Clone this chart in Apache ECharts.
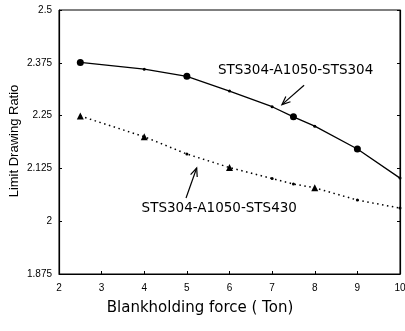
<!DOCTYPE html>
<html><head><meta charset="utf-8">
<script src="https://cdn.jsdelivr.net/npm/echarts@6/dist/echarts.min.js"></script>
<style>html,body{margin:0;padding:0;background:#fff}#c{width:405px;height:331px}</style>
</head><body><div id="c"></div>
<script>
// Series 1: STS304-A1050-STS304 (solid)
var name1 = 'STS304-A1050-STS304';
var xs1 = [2.5, 4, 5, 6, 7, 7.5, 8, 9, 10];
var ys1 = [2.376, 2.360, 2.343, 2.308, 2.271, 2.247, 2.225, 2.171, 2.102];
var bigX1 = [2.5, 5, 7.5, 9];
// Series 2: STS304-A1050-STS430 (dotted)
var name2 = 'STS304-A1050-STS430';
var xs2 = [2.5, 4, 5, 6, 7, 7.5, 8, 9, 10];
var ys2 = [2.249, 2.200, 2.159, 2.127, 2.101, 2.088, 2.079, 2.050, 2.031];
var bigX2 = [2.5, 4, 6, 8];
var yTicks = [1.875, 2, 2.125, 2.25, 2.375, 2.5];
var xTicks = [2, 3, 4, 5, 6, 7, 8, 9, 10];
var xTitle = 'Blankholding force ( Ton)';
var yTitle = 'Limit Drawing Ratio';

var chart = echarts.init(document.getElementById('c'));
function pts(xs, ys, big, bigSym) {
  return xs.map(function (x, i) {
    var isBig = big.indexOf(x) >= 0;
    return { value: [x, ys[i]], symbol: isBig ? bigSym : 'circle', symbolSize: isBig ? 7 : 3 };
  });
}
var lab = { color: '#000', fontFamily: 'Arial', fontSize: 10 };
chart.setOption({
  animation: false,
  grid: { left: 59, right: 5, top: 10, bottom: 57, show: true, borderColor: '#000', borderWidth: 1, containLabel: false, outerBoundsMode: 'none' },
  xAxis: {
    type: 'value', min: xTicks[0], max: xTicks[xTicks.length - 1], interval: 1,
    axisLine: { lineStyle: { color: '#000', width: 1.2 } },
    axisTick: { inside: true, length: 3, lineStyle: { color: '#000' } },
    axisLabel: Object.assign({ margin: 9 }, lab),
    splitLine: { show: false }
  },
  yAxis: [{
    type: 'value', min: yTicks[0], max: yTicks[yTicks.length - 1], interval: 0.125,
    axisLine: { show: true, lineStyle: { color: '#000', width: 1.2 } },
    axisTick: { show: true, inside: true, length: 3, lineStyle: { color: '#000' } },
    axisLabel: Object.assign({ margin: 7, formatter: function (v) { return String(parseFloat(v.toFixed(3))); } }, lab),
    splitLine: { show: false }
  }, {
    type: 'value', position: 'right', min: yTicks[0], max: yTicks[yTicks.length - 1], interval: 0.125,
    axisLine: { show: true, lineStyle: { color: '#000', width: 1.2 } },
    axisTick: { show: true, inside: true, length: 3, lineStyle: { color: '#000' } },
    axisLabel: { show: false }, splitLine: { show: false }
  }],
  series: [{
    name: name1, type: 'line', data: pts(xs1, ys1, bigX1, 'circle'),
    lineStyle: { color: '#000', width: 1.3 }, itemStyle: { color: '#000' }
  }, {
    name: name2, type: 'line', data: pts(xs2, ys2, bigX2, 'triangle'),
    lineStyle: { color: '#000', width: 1.5, type: [1.5, 3.5] }, itemStyle: { color: '#000' }
  }]
});

function px(x, y) { return chart.convertToPixel({ gridIndex: 0 }, [x, y]); }
function arrow(from, to) {
  var a = px(from[0], from[1]), b = px(to[0], to[1]);
  var ang = Math.atan2(b[1] - a[1], b[0] - a[0]);
  var L = 9, s = 0.4;
  var h1 = [b[0] - L * Math.cos(ang - s), b[1] - L * Math.sin(ang - s)];
  var h2 = [b[0] - L * Math.cos(ang + s), b[1] - L * Math.sin(ang + s)];
  return [
    { type: 'line', shape: { x1: a[0], y1: a[1], x2: b[0], y2: b[1] }, style: { stroke: '#000', lineWidth: 1.2 } },
    { type: 'polyline', shape: { points: [h1, b, h2] }, style: { stroke: '#000', lineWidth: 1.2, fill: null } }
  ];
}
function label(text, x, y, size) {
  var p = px(x, y);
  return { type: 'text', x: p[0], y: p[1], style: { text: text, fill: '#000', font: size + 'px "DejaVu Sans"', align: 'center', verticalAlign: 'middle' } };
}
var g = [];
g.push(label(name1, 7.55, 2.357, 13.5));
g.push(label(name2, 5.76, 2.03, 13.5));
g = g.concat(arrow([7.75, 2.322], [7.23, 2.276]));
g = g.concat(arrow([4.98, 2.055], [5.23, 2.126]));
// axis titles
g.push({ type: 'text', x: 200, y: 308, style: { text: xTitle, fill: '#000', font: '15px "DejaVu Sans"', align: 'center', verticalAlign: 'middle' } });
g.push({ type: 'text', x: 14, y: 141, rotation: Math.PI / 2, style: { text: yTitle, fill: '#000', font: '13px Arial', align: 'center', verticalAlign: 'middle' } });
chart.setOption({ graphic: g });
</script></body></html>
